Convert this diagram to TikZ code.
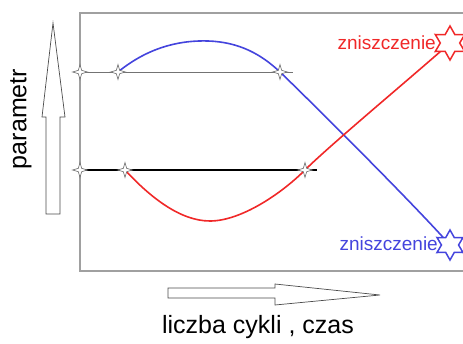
\documentclass[tikz,border=0pt]{standalone}
\usepackage{fontspec}
\setmainfont{Liberation Sans}
\usetikzlibrary{shapes.geometric}
\definecolor{cred}{HTML}{F02828}
\definecolor{cblue}{HTML}{4444DD}
\definecolor{frame}{HTML}{A0A0A0}
\tikzset{
  mk/.style={star, star points=4, star point ratio=3.2, minimum size=15pt, inner sep=0pt, draw=black!60, fill=white, line width=0.6pt},
  bigstar/.style={star, star points=6, star point ratio=1.75, minimum size=#1, inner sep=0pt, fill=white, line width=1.5pt},
  curve/.style={line width=1.6pt},
  hollow/.style={draw=black!70, fill=white, line width=0.7pt},
  lbl/.style={font=\fontsize{19}{22}\selectfont, inner sep=0pt},
  axlbl/.style={font=\fontsize{25}{30}\selectfont, inner sep=0pt}
}
\begin{document}
\begin{tikzpicture}[x=1pt,y=-1pt]
\useasboundingbox (0,0) rectangle (463,343);
\clip (0,0) rectangle (463,343);
% frame
\draw[frame, line width=1.5pt] (80,13) rectangle (480,271);
% markers (positions)
\coordinate (u0) at (80,72);
\coordinate (u1) at (118,72);
\coordinate (u2) at (280,72);
\coordinate (uend) at (293,72);
\coordinate (l0) at (80,170);
\coordinate (l1) at (125,170);
\coordinate (l2) at (305,170);
\coordinate (lend) at (317,170);
\coordinate (rs) at (450,43);
\coordinate (bs) at (450,245);
% horizontal lines
\draw[black!55, line width=0.8pt] (u0) -- (uend);
\draw[black, line width=1.1pt] (l0) -- (lend);
% curves
\draw[cblue, curve] (u1) .. controls (145,50) and (175,40) .. (208,41)
  .. controls (240,42) and (262,55) .. (u2)
  .. controls (300,91) and (410,200) .. (bs);
\draw[cred, curve] (l1) .. controls (150,197) and (180,221) .. (210,221)
  .. controls (240,221) and (280,195) .. (l2)
  .. controls (330,145) and (420,70) .. (rs);
% markers
\foreach \p in {u0,u1,u2,l0,l1,l2} {
  \node[mk] (m\p) at (\p) {};
}
% end stars
\node[bigstar=34pt, draw=cred] (rstar) at (rs) {};
\node[bigstar=30pt, draw=cblue] (bstar) at (bs) {};
\node[lbl, text=cred, anchor=east] (rlab) at (436,43) {zniszczenie};
\node[lbl, text=cblue, anchor=east] (blab) at (438,244) {zniszczenie};
% y hollow arrow
\draw[hollow] (46,214) -- (46,117) -- (42,117) -- (53,23) -- (65,117) -- (60,117) -- (60,214) -- cycle;
\node[axlbl, rotate=90] (ylab) at (21,119) {parametr};
% x hollow arrow
\draw[hollow] (168,288) -- (275,288) -- (275,284) -- (380,295) -- (275,305) -- (275,298) -- (168,298) -- cycle;
\node[axlbl] (xlab) at (258,327) {liczba cykli , czas};
\end{tikzpicture}
\end{document}
